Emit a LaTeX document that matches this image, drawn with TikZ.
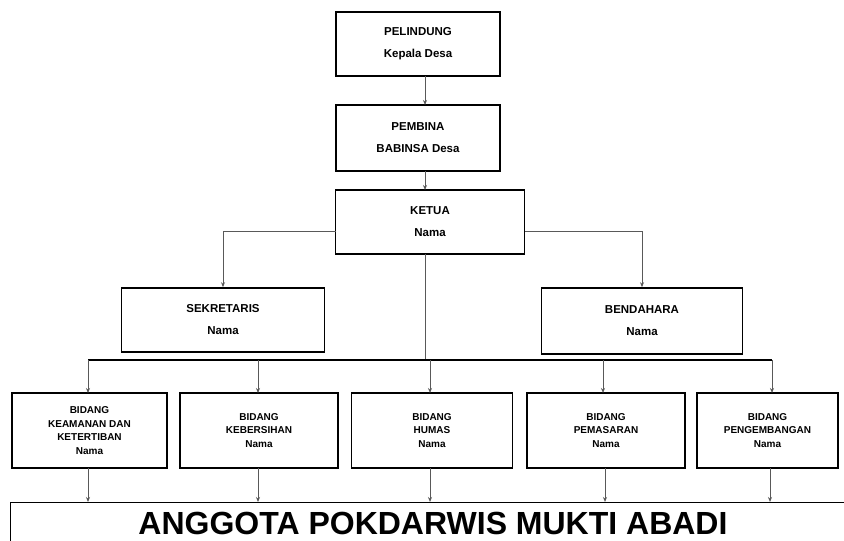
\documentclass[tikz,border=0pt]{standalone}
\usepackage{fontspec}
\setmainfont{Liberation Sans}
\usetikzlibrary{arrows.meta,calc}
\tikzset{
  orgbox/.style={draw=black,line width=1.6pt,fill=white,align=center,inner sep=2pt,
    font=\bfseries\fontsize{11.5}{16}\selectfont},
  subbox/.style={orgbox,font=\bfseries\fontsize{10}{13.5}\selectfont},
  conn/.style={draw=black!65,line width=0.9pt,-{Stealth[length=5pt,width=4pt]}},
  plain/.style={draw=black!65,line width=0.9pt},
  busline/.style={draw=black,line width=1.8pt}
}
\begin{document}
\begin{tikzpicture}[x=1pt,y=-1pt]
\useasboundingbox (0,0) rectangle (844,541);
% top chain
\node[orgbox,minimum width=164pt,minimum height=64pt] (pel) at (418,44) {PELINDUNG\\[6pt] Kepala Desa};
\node[orgbox,minimum width=164pt,minimum height=66pt] (pem) at (418,138) {PEMBINA\\[6pt] BABINSA Desa};
\node[orgbox,minimum width=189pt,minimum height=64pt] (ket) at (430,222) {KETUA\\[6pt] Nama};
\node[orgbox,minimum width=203pt,minimum height=64pt] (sek) at (223,320) {SEKRETARIS\\[6pt] Nama};
\node[orgbox,minimum width=201pt,minimum height=66pt] (ben) at (642,321) {BENDAHARA\\[6pt] Nama};
% bottom row
\node[subbox,minimum width=155pt,minimum height=75pt] (b1) at (89.5,430.5) {BIDANG\\KEAMANAN DAN\\KETERTIBAN\\Nama};
\node[subbox,minimum width=158pt,minimum height=75pt] (b2) at (259,430.5) {BIDANG\\KEBERSIHAN\\Nama};
\node[subbox,minimum width=161pt,minimum height=75pt] (b3) at (432,430.5) {BIDANG\\HUMAS\\Nama};
\node[subbox,minimum width=158pt,minimum height=75pt] (b4) at (606,430.5) {BIDANG\\PEMASARAN\\Nama};
\node[subbox,minimum width=141pt,minimum height=75pt] (b5) at (767.5,430.5) {BIDANG\\PENGEMBANGAN\\Nama};
% members box
\node[draw=black,line width=1pt,minimum width=840pt,minimum height=50pt,anchor=north west] (ang) at (10,502) {};
\node[font=\bfseries\fontsize{32}{34}\selectfont] (angt) at (433,523) {ANGGOTA POKDARWIS MUKTI ABADI};
% connectors
\coordinate (kd) at (425,254);
\coordinate (bus) at (425,360);
\coordinate (busL) at (88,360);
\coordinate (busR) at (772,360);
\coordinate (kl) at (336,231);
\coordinate (kr) at (525,231);
\draw[conn] (425,76) -- (425,105);
\draw[conn] (425,171) -- (425,190);
\draw[conn] (kl) -| (sek.north);
\draw[conn] (kr) -| (ben.north);
\draw[plain] (kd) -- (bus);
\draw[busline] (busL) -- (busR);
\foreach \b/\x in {b1/88,b2/258,b3/430,b4/603,b5/772}{
  \draw[conn] (\x,360) -- (\x,393);
}
\foreach \b/\x in {b1/88,b2/258,b3/430,b4/605,b5/770}{
  \draw[conn] (\x,468) -- (\x,502);
}
\end{tikzpicture}
\end{document}
